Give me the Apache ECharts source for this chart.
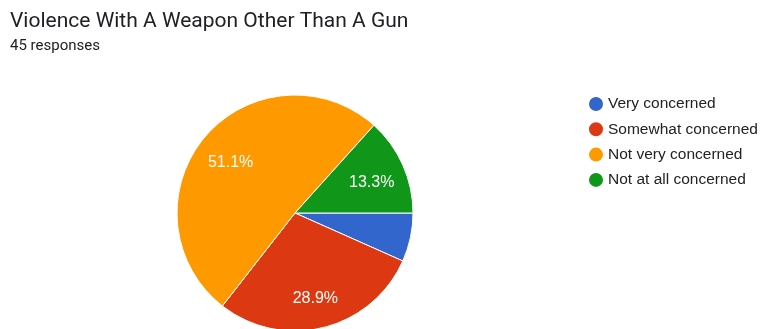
<!DOCTYPE html>
<html>
<head>
<meta charset="utf-8">
<script src="https://cdn.jsdelivr.net/npm/echarts@6/dist/echarts.min.js"></script>
<style>
  html, body { margin: 0; padding: 0; background: #fff; }
  #chart { width: 762px; height: 329px; }
</style>
</head>
<body>
<div id="chart"></div>
<script>
// Survey answers: how concerned respondents are about violence with a weapon other than a gun
const categories = ['Very concerned', 'Somewhat concerned', 'Not very concerned', 'Not at all concerned'];
const responses = [3, 13, 23, 6];
const colors = ['#3366cc', '#dc3912', '#ff9900', '#109618'];
const total = responses.reduce((a, b) => a + b, 0);

const pieData = categories.map((name, i) => ({ name, value: responses[i] }));

const chart = echarts.init(document.getElementById('chart'), null, { renderer: 'canvas' });
chart.setOption({
  animation: false,
  color: colors,
  title: {
    text: 'Violence With A Weapon Other Than A Gun',
    subtext: total + ' responses',
    left: 5,
    top: 6,
    itemGap: 7,
    textStyle: { fontFamily: 'Roboto', fontSize: 21, fontWeight: 'normal', color: '#202124' },
    subtextStyle: { fontFamily: 'Roboto', fontSize: 15, color: '#202124' }
  },
  legend: {
    orient: 'vertical',
    left: 582,
    top: 90,
    icon: 'circle',
    itemWidth: 16,
    itemHeight: 16,
    itemGap: 7.3,
    data: categories,
    textStyle: { fontFamily: 'Liberation Sans', fontSize: 15.5, color: '#222', padding: [0, 0, 0, -1] }
  },
  series: [
    {
      type: 'pie',
      center: [295, 213],
      radius: 118,
      startAngle: 0,
      clockwise: true,
      label: { show: false },
      labelLine: { show: false },
      itemStyle: { borderColor: '#fff', borderWidth: 1 },
      emphasis: { disabled: true },
      data: pieData
    },
    {
      // transparent ring that carries the percentage labels further out than the slice middle
      type: 'pie',
      center: [295, 213],
      radius: [44, 118],
      startAngle: 0,
      clockwise: true,
      silent: true,
      legendHoverLink: false,
      itemStyle: { color: 'transparent', borderWidth: 0 },
      emphasis: { disabled: true },
      label: {
        show: true,
        position: 'inside',
        offset: [0, 4],
        fontFamily: 'Liberation Sans',
        fontSize: 16,
        color: '#fff',
        formatter: p => p.value / total >= 0.1 ? (p.value / total * 100).toFixed(1) + '%' : ''
      },
      labelLine: { show: false },
      data: pieData
    }
  ]
});
</script>
</body>
</html>
